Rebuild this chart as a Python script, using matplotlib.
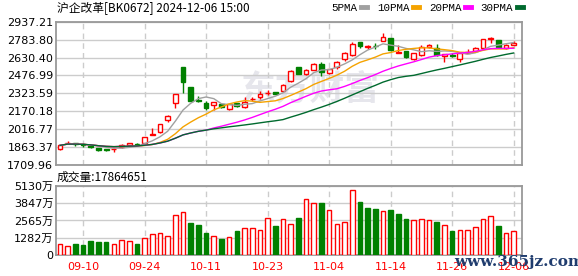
import numpy as np
import pandas as pd
import matplotlib
matplotlib.use("Agg")
import matplotlib.pyplot as plt
from matplotlib.lines import Line2D

plt.rcParams['font.family'] = ['DejaVu Sans', 'Noto Sans CJK SC']

# ---------------- data ----------------
opens = [1844, 1895, 1898, 1890, 1870, 1852, 1848, 1846, 1862, 1880,
         1893, 1901, 1968, 1990, 2095, 2238, 2546, 2375, 2270, 2238,
         2221, 2230, 2187, 2241, 2204, 2273, 2290, 2326, 2332, 2347,
         2426, 2546, 2486, 2527, 2578, 2495, 2546, 2615, 2655, 2763,
         2718, 2732, 2775, 2795, 2666, 2683, 2615, 2649, 2718, 2709,
         2643, 2650, 2615, 2670, 2689, 2709, 2792, 2780, 2712, 2738]
highs = [1880, 1912, 1902, 1898, 1872, 1856, 1850, 1855, 1890, 1898,
         1898, 1950, 2024, 2060, 2135, 2320, 2550, 2380, 2300, 2258,
         2250, 2235, 2235, 2245, 2290, 2295, 2341, 2352, 2335, 2400,
         2520, 2550, 2530, 2582, 2595, 2535, 2600, 2680, 2760, 2765,
         2735, 2752, 2838, 2800, 2738, 2686, 2670, 2735, 2746, 2746,
         2660, 2666, 2670, 2700, 2723, 2790, 2809, 2783, 2746, 2775]
lows = [1842, 1890, 1870, 1864, 1855, 1832, 1830, 1818, 1858, 1876,
        1878, 1898, 1966, 1985, 2081, 2195, 2330, 2255, 2250, 2181,
        2181, 2195, 2185, 2210, 2195, 2258, 2278, 2310, 2318, 2340,
        2420, 2490, 2480, 2522, 2475, 2490, 2532, 2600, 2643, 2709,
        2700, 2700, 2772, 2689, 2665, 2624, 2612, 2645, 2715, 2643,
        2595, 2638, 2595, 2665, 2685, 2705, 2758, 2712, 2706, 2735]
closes = [1878, 1900, 1888, 1882, 1862, 1840, 1836, 1850, 1885, 1895,
          1885, 1947, 1972, 2058, 2132, 2318, 2424, 2261, 2258, 2201,
          2247, 2204, 2230, 2218, 2250, 2276, 2318, 2330, 2322, 2395,
          2515, 2492, 2524, 2578, 2509, 2529, 2595, 2666, 2749, 2732,
          2728, 2725, 2803, 2695, 2680, 2638, 2666, 2723, 2735, 2652,
          2658, 2645, 2666, 2675, 2709, 2786, 2795, 2718, 2735, 2758]
volumes_wan = [805, 679, 830, 754, 1056, 981, 981, 830, 1132, 1056,
               830, 1282, 1584, 1660, 1433, 2942, 3169, 2414, 2263, 1660,
               1433, 1207, 1358, 1811, 2037, 2037, 1886, 2716, 2188, 2640,
               2339, 2741, 4149, 3848, 3848, 3320, 2339, 2490, 4828, 3923,
               3470, 3395, 3244, 3320, 3018, 2640, 2565, 2640, 2565, 2490,
               2263, 1811, 1886, 1886, 2112, 2640, 2867, 2188, 1660, 1786.4651]
date_tick_index = [3, 11, 19, 27, 35, 43, 51, 59]
date_tick_labels = ['09-10', '09-24', '10-11', '10-23', '11-04', '11-14', '11-26', '12-06']
price_ticks = [1709.96, 1863.37, 2016.77, 2170.18, 2323.59, 2476.99, 2630.40, 2783.80, 2937.21]
price_tick_labels = ['1709.96', '1863.37', '2016.77', '2170.18', '2323.59',
                     '2476.99', '2630.40', '2783.80', '2937.21']
vol_ticks = [0, 1282.5, 2565, 3847.5, 5130]
vol_tick_labels = ['0', '1282万', '2565万', '3847万', '5130万']
ma_periods = [5, 10, 20, 30]
ma_names = ['5PMA', '10PMA', '20PMA', '30PMA']
title_text = '沪企改革[BK0672] 2024-12-06 15:00'
vol_text = '成交量:17864651'

# ---------------- style ----------------
RED = '#ff0000'
GREEN = '#008000'
MA_COLORS = ['#a0a0a0', '#f5a300', '#ff00ff', '#006a2e']
SPINE = '#999999'
GRID = '#cccccc'

fig = plt.figure(figsize=(5.78, 2.76), dpi=100)
ax = fig.add_axes([0.0969, 0.4022, 0.8062, 0.5192])
axv = fig.add_axes([0.0969, 0.0761, 0.8062, 0.25])

x = np.arange(len(closes))
o = np.array(opens, float); h = np.array(highs, float)
l = np.array(lows, float); c = np.array(closes, float)
up = c >= o

# candles
for i in range(len(x)):
    col = RED if up[i] else GREEN
    ax.vlines(x[i], l[i], h[i], color=col, lw=1, zorder=3)
    ax.bar(x[i], abs(c[i] - o[i]), bottom=min(o[i], c[i]), width=0.62,
           facecolor='white' if up[i] else GREEN, edgecolor=col, lw=1, zorder=4)

# moving averages
s = pd.Series(c)
for n, col in zip(ma_periods, MA_COLORS):
    ax.plot(x, s.rolling(n, min_periods=1).mean(), color=col, lw=1, zorder=5)

# volume
prev = np.concatenate([[o[0]], c[:-1]])
vup = c >= prev
for i in range(len(x)):
    if vup[i]:
        axv.bar(x[i], volumes_wan[i], width=0.6, facecolor='white', edgecolor=RED, lw=1, zorder=3)
    else:
        axv.bar(x[i], volumes_wan[i], width=0.6, facecolor=GREEN, edgecolor=GREEN, lw=1, zorder=3)

for a in (ax, axv):
    a.set_xlim(-0.52, 60.08)
    a.set_xticks(date_tick_index)
    a.xaxis.grid(True, color=GRID, ls=(0, (4, 3)), lw=1)
    a.yaxis.grid(True, color=GRID, ls='-', lw=1)
    a.set_axisbelow(True)
    for sp in a.spines.values():
        sp.set_color(SPINE)
        sp.set_linewidth(1.3)
    a.tick_params(length=0, labelsize=8, pad=2)

ax.set_ylim(price_ticks[0], price_ticks[-1])
ax.set_yticks(price_ticks)
ax.set_yticklabels(price_tick_labels)
ax.set_xticklabels([])

axv.set_ylim(0, vol_ticks[-1])
axv.set_yticks(vol_ticks)
axv.set_yticklabels(vol_tick_labels)
axv.set_xticklabels(date_tick_labels, color=RED)
axv.tick_params(axis='x', pad=5)

# watermark
ax.text(0.545, 0.53, '东方财富', transform=ax.transAxes, ha='center', va='center',
        fontsize=25, fontweight='bold', color='#e6e6ec', zorder=0,
        family=['Noto Sans CJK SC'])

# texts
fig.text(0.0986, 0.971, title_text, ha='left', va='center', fontsize=8.5,
         family=['Noto Sans CJK SC', 'DejaVu Sans'])
fig.text(0.0986, 0.358, vol_text, ha='left', va='center', fontsize=8.5,
         family=['Noto Sans CJK SC', 'DejaVu Sans'])

handles = [Line2D([0], [0], color=col, lw=3.5) for col in MA_COLORS]
fig.legend(handles, ma_names, loc='center right', bbox_to_anchor=(0.905, 0.971),
           ncol=4, frameon=False, markerfirst=False, handlelength=0.6,
           handletextpad=0.3, columnspacing=0.9, borderpad=0, borderaxespad=0,
           prop={'family': 'Liberation Mono', 'size': 7.8})

fig.text(0.785, 0.05, 'www.365jz.com', ha='left', va='center', fontsize=11,
         fontweight='bold', color='#1f3c6e', family='DejaVu Serif')

fig.savefig('out.png', dpi=100)
